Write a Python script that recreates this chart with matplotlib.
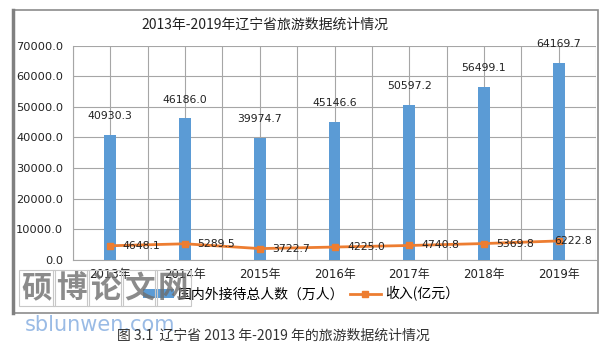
import matplotlib
matplotlib.use("Agg")
import matplotlib.pyplot as plt
from matplotlib.patches import Rectangle

plt.rcParams['font.family'] = ['DejaVu Sans', 'Noto Sans CJK SC']

# 数据
years = ['2013年', '2014年', '2015年', '2016年', '2017年', '2018年', '2019年']
visitors = [40930.3, 46186.0, 39974.7, 45146.6, 50597.2, 56499.1, 64169.7]
income = [4648.1, 5289.5, 3722.7, 4225.0, 4740.8, 5369.8, 6222.8]
yticks = [0, 10000, 20000, 30000, 40000, 50000, 60000, 70000]

bar_color = '#5B9BD5'
line_color = '#ED7D31'

fig = plt.figure(figsize=(6.15, 3.45), dpi=100)
ax = fig.add_axes([73/615, 1 - 260/345, (596 - 73)/615, (260 - 45.5)/345])

x = list(range(len(years)))
bars = ax.bar(x, visitors, width=0.16, color=bar_color, zorder=3,
              label='国内外接待总人数（万人）')
line, = ax.plot(x, income, color=line_color, lw=2, marker='s', ms=5, zorder=4,
                label='收入(亿元）')

# 数据标签
for i, v in enumerate(visitors):
    ax.annotate(f'{v:.1f}', (i, v), xytext=(0, 10), textcoords='offset points',
                ha='center', va='bottom', fontsize=7.8, color='#222222')
for i, v in enumerate(income):
    dx = 9 if i < len(income) - 1 else -3
    ax.annotate(f'{v:.1f}', (i, v), xytext=(dx, 0), textcoords='offset points',
                ha='left', va='center', fontsize=7.8, color='#222222', zorder=5)

ax.set_xlim(-0.5, len(years) - 0.5)
ax.set_ylim(0, 70000)
ax.set_yticks(yticks)
ax.set_yticklabels([f'{t:.1f}' for t in yticks], fontsize=8.2, color='#222222')
ax.set_xticks(x)
ax.set_xticklabels(years, fontsize=8.5, color='#222222')
ax.set_xticks([i - 0.5 for i in range(len(years) + 1)], minor=True)
ax.tick_params(axis='both', which='both', length=0)
ax.tick_params(axis='y', pad=7)
ax.tick_params(axis='x', pad=6)
ax.grid(True, axis='y', color='#A6A6A6', lw=0.8, zorder=0)
ax.grid(True, axis='x', which='both', color='#A6A6A6', lw=0.8, zorder=0)
for s in ['top', 'right']:
    ax.spines[s].set_visible(False)
ax.spines['left'].set_color('#A6A6A6')
ax.spines['bottom'].set_color('#A6A6A6')

fig.text(0.43, 1 - 25/345, '2013年-2019年辽宁省旅游数据统计情况', ha='center', va='center',
         fontsize=10, family=['Noto Sans CJK SC', 'DejaVu Sans'], color='#222222')

ax.legend([bars, line], ['国内外接待总人数（万人）', '收入(亿元）'],
          loc='center', bbox_to_anchor=(301/615 * 615/523 - 73/523, (260 - 294) / 214.5),
          ncol=2, frameon=False, handlelength=2.2, handleheight=0.6, columnspacing=0.4,
          handletextpad=0.3, prop={'family': ['Noto Sans CJK SC', 'DejaVu Sans'], 'size': 10})

# 外框
fig.add_artist(Rectangle((13/615, 1 - 313/345), (598 - 13)/615, (313 - 10)/345,
                         transform=fig.transFigure, fill=False, ec='#8C8C8C', lw=1.2))
fig.add_artist(plt.Line2D([13/615, 13/615], [1 - 313/345, 1 - 10/345],
                          transform=fig.transFigure, color='#808080', lw=2.5))

# 水印
for i, ch in enumerate('硕博论文网'):
    fig.text((37 + i * 34)/615, 1 - 288/345, ch, ha='center', va='center',
             fontsize=22, fontweight='bold', color='#6E6E6E', alpha=0.8,
             family=['Noto Sans CJK SC'],
             bbox=dict(boxstyle='square,pad=0.08', fc='none', ec='#C8C8C8', lw=0.8))
fig.text(25/615, 1 - 325/345, 'sblunwen.com', ha='left', va='center',
         fontsize=15, color='#8FB4E3', alpha=0.9)

fig.text(273/615, 1 - 336/345, '图 3.1  辽宁省 2013 年-2019 年的旅游数据统计情况',
         ha='center', va='center', fontsize=10, color='#333333',
         family=['Noto Sans CJK SC', 'DejaVu Sans'])

fig.savefig('out.png', dpi=100)
